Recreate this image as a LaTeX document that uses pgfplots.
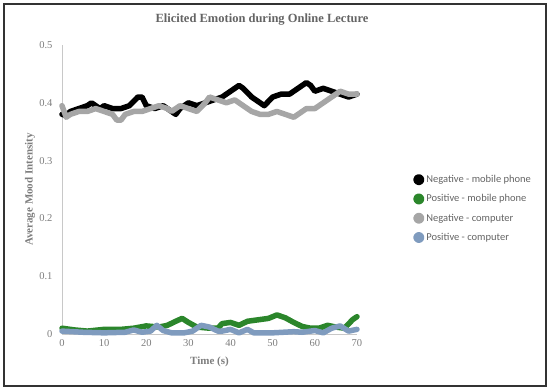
\documentclass[border=0pt]{standalone}
\usepackage{fontspec}
\setmainfont{Liberation Serif}
\newfontfamily\legfont{Carlito}
\usepackage{pgfplots}
\pgfplotsset{compat=1.18}
\definecolor{negmob}{RGB}{0,0,0}
\definecolor{posmob}{RGB}{43,134,43}
\definecolor{negcomp}{RGB}{166,166,166}
\definecolor{poscomp}{RGB}{127,155,190}
\definecolor{txtgray}{RGB}{125,125,125}
\definecolor{titlegray}{RGB}{100,100,100}
\definecolor{axgray}{RGB}{200,200,200}
\begin{document}
\begin{tikzpicture}[x=1pt,y=1pt]
\useasboundingbox (0,0) rectangle (550,390);
\draw[line width=1.2pt, black!80] (4,4) rectangle (546,386);
\node[font=\bfseries\fontsize{12.5}{14}\selectfont, text=titlegray] at (262,370) {Elicited Emotion during Online Lecture};
\begin{axis}[
  at={(62pt,56pt)}, anchor=south west,
  scale only axis, width=295pt, height=289pt,
  xmin=0, xmax=70, ymin=0, ymax=0.5,
  xtick={0,10,...,70}, ytick={0,0.1,0.2,0.3,0.4,0.5},
  axis lines*=left,
  axis line style={axgray, line width=0.8pt},
  major tick length=0pt,
  /pgf/number format/assume math mode=true,
  yticklabel style={/pgf/number format/fixed, /pgf/number format/precision=1, xshift=-6pt},
  xticklabel style={yshift=-2pt},
  tick label style={font=\fontsize{10.5}{12}\selectfont, text=txtgray},
  xlabel={Time (s)}, ylabel={Average Mood Intensity},
  label style={font=\bfseries\fontsize{11}{13}\selectfont, text=txtgray},
  xlabel style={at={(axis description cs:0.5,-0.0969)}, anchor=center},
  ylabel style={at={(axis description cs:-0.1085,0.5)}, anchor=center},
  clip=false,
  legend cell align=left,
  legend style={at={(axis description cs:1.18,0.434)}, anchor=west, draw=none, fill=none,
    font=\legfont\fontsize{10.5}{12}\selectfont, text=titlegray, row sep=6.5pt,
    /tikz/every even column/.append style={column sep=0pt},
    /tikz/every odd column/.append style={inner xsep=0pt}},
  legend image code/.code={\fill[#1] (3pt,0pt) circle (2.8pt);},
  every axis plot/.append style={line width=5.5pt, line join=round, line cap=round, mark=none},
]
\addplot[color=negmob] coordinates {
(0,0.38) (1,0.378) (2,0.385) (4,0.39) (6,0.395) (7,0.40) (9,0.39) (10,0.395) (12,0.39) (14,0.39) (16,0.395) (18,0.41) (19,0.41) (20,0.395) (22,0.39) (24,0.395) (25,0.39) (27,0.38) (28,0.39) (30,0.40) (32,0.395) (34,0.40) (36,0.405) (38,0.41) (40,0.42) (42,0.43) (43,0.425) (45,0.41) (47,0.40) (48,0.395) (50,0.41) (52,0.415) (54,0.415) (56,0.425) (58,0.435) (59,0.43) (60,0.42) (62,0.425) (64,0.42) (66,0.415) (68,0.41) (70,0.415)
};
\addlegendentry{Negative - mobile phone}
\addplot[color=posmob] coordinates {
(0,0.01) (3,0.007) (6,0.005) (10,0.008) (14,0.008) (17,0.01) (20,0.014) (23,0.012) (25,0.015) (27,0.022) (28.5,0.027) (30,0.02) (32,0.012) (35,0.01) (37,0.01) (38,0.018) (40,0.02) (42,0.015) (44,0.022) (47,0.025) (49,0.027) (51,0.033) (53,0.028) (55,0.02) (57,0.013) (59,0.01) (61,0.01) (63,0.015) (65,0.012) (67,0.01) (69,0.025) (70,0.03)
};
\addlegendentry{Positive - mobile phone}
\addplot[color=negcomp] coordinates {
(0,0.395) (1,0.375) (2,0.38) (4,0.385) (6,0.385) (8,0.39) (10,0.385) (12,0.38) (13,0.37) (14,0.37) (15,0.38) (17,0.385) (19,0.385) (21,0.39) (23,0.395) (25,0.39) (26,0.385) (28,0.395) (30,0.39) (32,0.385) (34,0.40) (35,0.41) (37,0.405) (39,0.40) (41,0.405) (43,0.395) (45,0.385) (47,0.38) (49,0.38) (51,0.385) (53,0.38) (55,0.375) (56,0.38) (58,0.39) (60,0.39) (62,0.40) (64,0.41) (66,0.42) (68,0.415) (70,0.415)
};
\addlegendentry{Negative - computer}
\addplot[color=poscomp] coordinates {
(0,0.005) (5,0.003) (10,0.002) (15,0.003) (17,0.007) (19,0.003) (21,0.005) (22.5,0.015) (24,0.006) (26,0.002) (29,0.002) (31,0.005) (33,0.015) (35,0.012) (37,0.005) (38,0.005) (40,0.008) (42,0.002) (44,0.008) (45.5,0.002) (50,0.002) (55,0.004) (57,0.003) (60,0.006) (62,0.002) (64,0.01) (66,0.014) (68,0.005) (70,0.008)
};
\addlegendentry{Positive - computer}
\end{axis}
\end{tikzpicture}
\end{document}
